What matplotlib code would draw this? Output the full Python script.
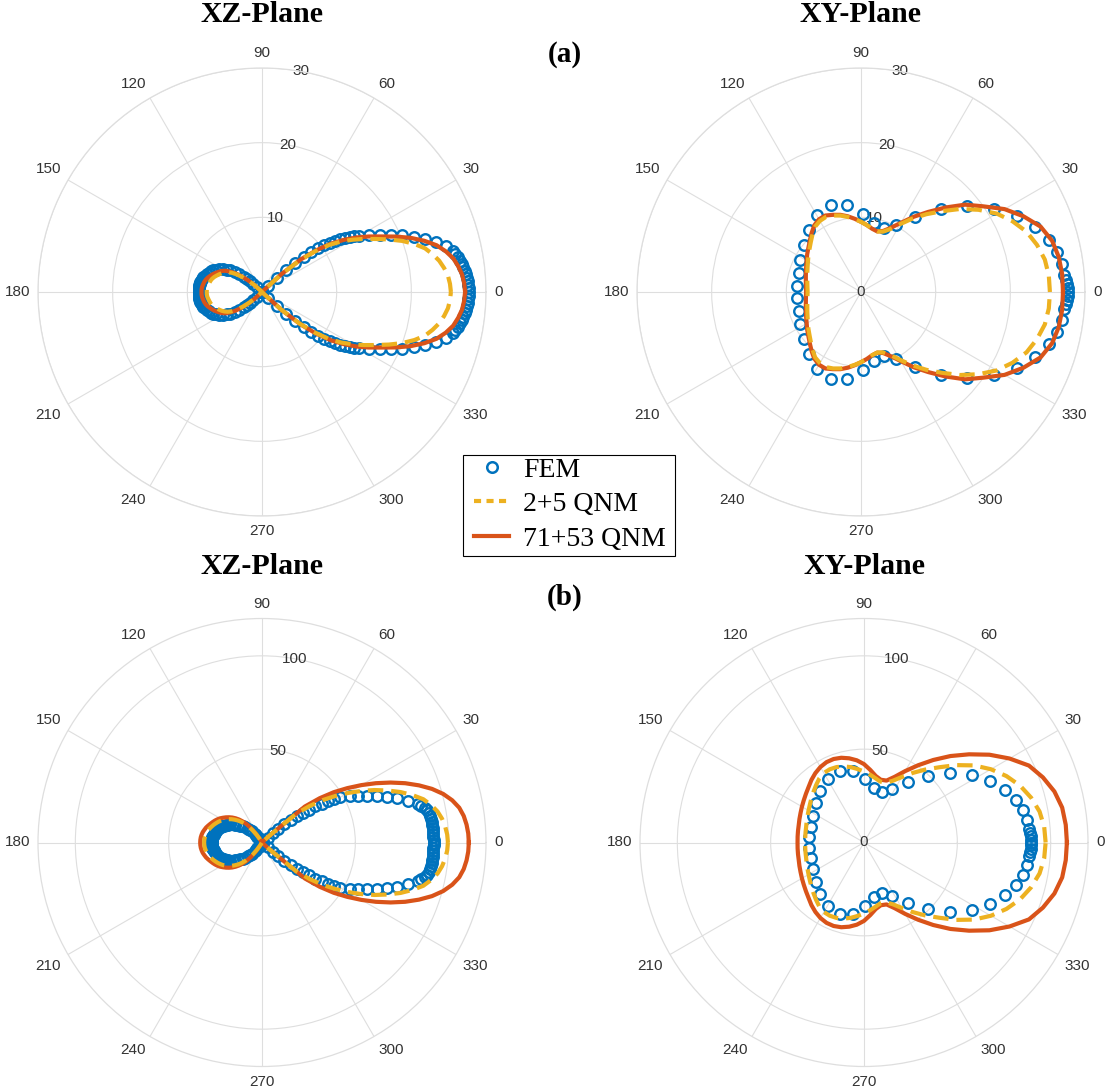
import numpy as np
import matplotlib
matplotlib.use("Agg")
import matplotlib.pyplot as plt
from matplotlib.lines import Line2D
from matplotlib.patches import Rectangle

plt.rcParams["font.family"] = ["Liberation Sans", "DejaVu Sans"]

# ---------------- data (angles in degrees, radii in plot units) ----------------
theta_ticks = list(range(0, 360, 30))
theta_tick_labels = [str(t) for t in theta_ticks]

# ---- (a) XZ-plane ----
a_xz_theta_line = np.r_[np.arange(0, 45.1, 2.5), [50, 90, 130], np.arange(135, 225.1, 2.5),
                        [230, 270, 310], np.arange(315, 360.1, 2.5)]
a_xz_qnm71 = [27.2, 27.1, 26.9, 26.5, 26.0, 25.2, 24.2, 22.8, 21.2, 19.4, 17.6, 16.1, 14.6, 13.0,
              11.3, 9.2, 6.8, 3.6, 0.3,
              0, 0, 0,
              0.3, 1.4, 2.4, 3.5, 4.4, 5.1, 5.7, 6.1, 6.4, 6.7, 7.0, 7.25, 7.5, 7.7, 7.85, 7.95,
              8.05, 8.1, 8.1,
              8.1, 8.05, 7.95, 7.85, 7.7, 7.5, 7.25, 7.0, 6.7, 6.4, 6.1, 5.7, 5.1, 4.4, 3.5, 2.4,
              1.4, 0.3,
              0, 0, 0,
              0.3, 3.6, 6.8, 9.2, 11.3, 13.0, 14.6, 16.1, 17.6, 19.4, 21.2, 22.8, 24.2, 25.2,
              26.0, 26.5, 26.9, 27.1, 27.2]
a_xz_qnm25 = [25.3, 25.2, 25.0, 24.6, 24.1, 23.4, 22.6, 21.4, 20.0, 18.4, 16.8, 15.4, 14.0, 12.6,
              11.0, 8.9, 6.6, 3.5, 0.3,
              0, 0, 0,
              0.3, 1.3, 2.2, 3.2, 4.1, 4.8, 5.3, 5.65, 5.95, 6.2, 6.45, 6.7, 6.9, 7.05, 7.15, 7.25,
              7.35, 7.4, 7.4,
              7.4, 7.35, 7.25, 7.15, 7.05, 6.9, 6.7, 6.45, 6.2, 5.95, 5.65, 5.3, 4.8, 4.1, 3.2,
              2.2, 1.3, 0.3,
              0, 0, 0,
              0.3, 3.5, 6.6, 8.9, 11.0, 12.6, 14.0, 15.4, 16.8, 18.4, 20.0, 21.4, 22.6, 23.4,
              24.1, 24.6, 25.0, 25.2, 25.3]
a_xz_fem_theta = [0, 1, 2, 3, 4, 5, 6, 7, 8, 9, 10, 11, 12, 14, 16, 18, 20, 22, 24, 26, 28,
                  30, 31, 32, 33, 34, 35, 36, 37, 38, 39, 40, 41, 42, 43, 44,
                  50, 70, 90, 110, 130,
                  136, 137, 138, 139, 140, 142, 144, 146, 148, 150, 152, 154, 156, 158, 160,
                  162, 164, 166, 168, 170, 171, 172, 173, 174, 175, 176, 177, 178, 179, 180,
                  181, 182, 183, 184, 185, 186, 187, 188, 189, 190, 192, 194, 196, 198, 200,
                  202, 204, 206, 208, 210, 212, 214, 216, 218, 220, 221, 222, 223, 224,
                  230, 250, 270, 290, 310,
                  316, 317, 318, 319, 320, 321, 322, 323, 324, 325, 326, 327, 328, 329, 330,
                  332, 334, 336, 338, 340, 342, 344, 346, 348, 349, 350, 351, 352, 353, 354,
                  355, 356, 357, 358, 359]
a_xz_fem_r = [27.7, 27.7, 27.65, 27.6, 27.5, 27.4, 27.3, 27.15, 27.0, 26.85, 26.7, 26.4, 26.15,
              25.4, 24.3, 23.0, 21.6, 20.25, 18.9, 17.55, 16.3,
              15.0, 14.45, 13.9, 13.3, 12.65, 12.0, 11.25, 10.4, 9.5, 8.5, 7.3, 5.9, 4.4, 2.8, 1.2,
              0, 0, 0, 0, 0,
              1.0, 1.6, 2.2, 2.7, 3.2, 3.85, 4.55, 5.15, 5.6, 6.1, 6.5, 6.85, 7.15, 7.4, 7.6,
              7.8, 7.95, 8.1, 8.2, 8.3, 8.35, 8.4, 8.4, 8.45, 8.45, 8.45, 8.45, 8.45, 8.45, 8.45,
              8.45, 8.45, 8.45, 8.45, 8.45, 8.45, 8.4, 8.4, 8.35, 8.3, 8.2, 8.1, 7.95, 7.8, 7.6,
              7.4, 7.15, 6.85, 6.5, 6.1, 5.6, 5.15, 4.55, 3.85, 3.2, 2.7, 2.2, 1.6, 1.0,
              0, 0, 0, 0, 0,
              1.2, 2.8, 4.4, 5.9, 7.3, 8.5, 9.5, 10.4, 11.25, 12.0, 12.65, 13.3, 13.9, 14.45, 15.0,
              16.3, 17.55, 18.9, 20.25, 21.6, 23.0, 24.3, 25.4, 26.15, 26.4, 26.7, 26.85, 27.0,
              27.15, 27.3, 27.4, 27.5, 27.6, 27.65, 27.7]

# ---- (a) XY-plane ----
xy_theta_line = np.arange(0, 361, 5)
a_xy_qnm25 = [25.3, 25.25, 25.0, 24.4, 23.6, 22.4, 21.0, 19.2, 17.3, 15.3, 13.6, 12.0, 10.5,
              9.3, 8.6, 8.4, 8.6, 9.0, 9.4, 9.8, 10.2, 10.6, 10.9, 11.1, 11.0, 10.7, 10.1,
              9.5, 9.0, 8.6, 8.2, 7.9, 7.65, 7.45, 7.3, 7.2, 7.15,
              7.2, 7.3, 7.45, 7.65, 7.9, 8.2, 8.6, 9.0, 9.5, 10.1, 10.7, 11.0, 11.1, 10.9,
              10.6, 10.2, 9.8, 9.4, 9.0, 8.6, 8.4, 8.6, 9.3, 10.5, 12.0, 13.6, 15.3, 17.3,
              19.2, 21.0, 22.4, 23.6, 24.4, 25.0, 25.25, 25.3]
a_xy_qnm71 = [27.05, 27.05, 26.9, 26.5, 25.6, 24.0, 22.2, 20.0, 18.2, 16.0, 14.0, 12.3, 10.7,
              9.5, 8.7, 8.4, 8.6, 9.0, 9.4, 9.85, 10.3, 10.7, 11.0, 11.3, 11.25, 10.9, 10.3,
              9.7, 9.2, 8.8, 8.4, 8.1, 7.85, 7.65, 7.5, 7.4, 7.35,
              7.4, 7.5, 7.65, 7.85, 8.1, 8.4, 8.8, 9.2, 9.7, 10.3, 10.9, 11.25, 11.3, 11.0,
              10.7, 10.3, 9.85, 9.4, 9.0, 8.6, 8.4, 8.7, 9.5, 10.7, 12.3, 14.0, 16.0, 18.2,
              20.0, 22.2, 24.0, 25.6, 26.5, 26.9, 27.05, 27.05]
xy_fem_theta = [0, 1.0, 2.2, 3.4, 4.8, 7.8, 11.5, 15.6, 20.5, 26.0, 32.1, 39.0, 46.1, 54.0,
                62.4, 70.2, 79.4, 88.8, 99.0, 109.0, 119.5, 130.1, 140.6, 152.2, 163.3, 174.6,
                185.4, 196.7, 207.8, 219.4, 229.9, 240.5, 251.0, 261.0, 271.2, 280.6, 289.8,
                297.6, 306.0, 313.9, 321.0, 327.9, 334.0, 339.5, 344.4, 348.5, 352.2, 355.2,
                356.6, 357.8, 359.0]
a_xy_fem_r = [27.7, 27.7, 27.6, 27.5, 27.3, 27.2, 26.8, 26.1, 24.9, 23.3, 21.0, 18.3, 15.4, 12.4,
              10.1, 9.05, 9.35, 10.5, 11.8, 12.3, 11.9, 10.9, 9.9, 9.2, 8.7, 8.6,
              8.6, 8.7, 9.2, 9.9, 10.9, 11.9, 12.3, 11.8, 10.5, 9.35, 9.05,
              10.1, 12.4, 15.4, 18.3, 21.0, 23.3, 24.9, 26.1, 26.8, 27.2, 27.3,
              27.5, 27.6, 27.7]

# ---- (b) XZ-plane ----
b_xz_theta_line = np.r_[np.arange(0, 45.1, 2.5), [50, 85, 115], np.arange(120, 240.1, 2.5),
                        [245, 275, 310], np.arange(315, 360.1, 2.5)]
b_xz_qnm71 = [110.8, 110.6, 110.0, 109.0, 107.3, 104.4, 100.5, 95.5, 89.5, 83.0, 76.0, 68.8,
              61.5, 54.2, 47.0, 39.0, 30.0, 5.0, 0.3,
              0, 0, 0,
              0, 2.5, 6.5, 10.0, 12.8, 15.3, 17.4, 19.2, 20.8, 22.2, 23.5, 24.7, 25.9, 26.9, 27.8,
              28.6, 29.4, 30.2, 31.0, 31.6, 32.2, 32.6, 32.9, 33.05, 33.1,
              33.05, 32.9, 32.6, 32.2, 31.6, 31.0, 30.2, 29.4, 28.6, 27.8, 26.9, 25.9, 24.7, 23.5,
              22.2, 20.8, 19.2, 17.4, 15.3, 12.8, 10.0, 6.5, 2.5, 0,
              0, 0, 0,
              0.3, 5.0, 30.0, 39.0, 47.0, 54.2, 61.5, 68.8, 76.0, 83.0, 89.5, 95.5, 100.5, 104.4,
              107.3, 109.0, 110.0, 110.6, 110.8]
b_xz_qnm25 = [99.6, 99.3, 98.5, 97.3, 95.5, 92.8, 89.5, 84.5, 79.0, 72.8, 66.5, 59.8, 53.0,
              46.2, 39.5, 32.0, 24.0, 6.0, 0.3,
              0, 0, 0,
              0, 2.0, 5.0, 8.2, 11.0, 13.5, 15.6, 17.4, 19.0, 20.5, 21.8, 23.0, 24.2, 25.1, 26.0,
              26.8, 27.6, 28.3, 29.0, 29.6, 30.1, 30.5, 30.8, 30.95, 31.0,
              30.95, 30.8, 30.5, 30.1, 29.6, 29.0, 28.3, 27.6, 26.8, 26.0, 25.1, 24.2, 23.0, 21.8,
              20.5, 19.0, 17.4, 15.6, 13.5, 11.0, 8.2, 5.0, 2.0, 0,
              0, 0, 0,
              0.3, 6.0, 24.0, 32.0, 39.5, 46.2, 53.0, 59.8, 66.5, 72.8, 79.0, 84.5, 89.5, 92.8,
              95.5, 97.3, 98.5, 99.3, 99.6]
b_xz_fem_theta = [0, 1, 2, 3, 4, 5, 6, 7, 8, 9, 10, 11, 12, 13, 14, 16, 18, 20, 22, 24, 26, 28,
                  30, 31, 32, 33, 34, 35, 36, 37, 38, 39, 40, 41, 42, 43,
                  50, 70, 90, 110,
                  124, 125, 126, 127, 128, 129, 130, 132, 134, 136, 138, 140, 142, 144, 146,
                  148, 150, 152, 154, 156, 158, 160, 162, 164, 166, 168, 170, 171, 172, 173,
                  174, 175, 176, 177, 178, 179, 180,
                  181, 182, 183, 184, 185, 186, 187, 188, 189, 190, 192, 194, 196, 198, 200,
                  202, 204, 206, 208, 210, 212, 214, 216, 218, 220, 222, 224, 226, 228,
                  230, 231, 232, 233, 234, 235, 236,
                  250, 270, 290, 310,
                  317, 318, 319, 320, 321, 322, 323, 324, 325, 326, 327, 328, 329, 330,
                  332, 334, 336, 338, 340, 342, 344,
                  346, 347, 348, 349, 350, 351, 352, 353, 354, 355, 356, 357, 358, 359]
b_xz_fem_r = [92.0, 92.0, 91.9, 91.9, 91.8, 91.7, 91.6, 91.5, 91.3, 91.1, 90.8, 90.0, 89.0,
              87.6, 85.9, 81.5, 76.3, 71.0, 66.2, 61.6, 57.4, 53.4,
              48.5, 45.2, 41.7, 38.1, 34.5, 30.8, 27.0, 23.3, 19.5, 15.5, 11.5, 7.5, 4.0, 1.0,
              0, 0, 0, 0,
              0, 1.0, 2.0, 3.0, 4.0, 5.0, 6.0, 8.0, 9.3, 10.7, 12.1, 13.5, 14.7, 15.9, 17.2,
              18.4, 19.5, 20.5, 21.4, 22.2, 22.9, 23.6, 24.3, 24.8, 25.3, 25.7, 26.1, 26.3, 26.5,
              26.6, 26.7, 26.8, 26.9, 27.0, 27.0, 27.0, 27.0,
              27.0, 27.0, 27.0, 26.9, 26.8, 26.7, 26.6, 26.5, 26.3, 26.1, 25.7, 25.3, 24.8, 24.3,
              23.6, 22.9, 22.2, 21.4, 20.5, 19.5, 18.4, 17.2, 15.9, 14.7, 13.5, 12.1, 10.7, 9.3,
              8.0,
              6.0, 5.0, 4.0, 3.0, 2.0, 1.0, 0,
              0, 0, 0, 0,
              1.0, 4.0, 7.5, 11.5, 15.5, 19.5, 23.3, 27.0, 30.8, 34.5, 38.1, 41.7, 45.2, 48.5,
              53.4, 57.4, 61.6, 66.2, 71.0, 76.3, 81.5,
              85.9, 87.6, 89.0, 90.0, 90.8, 91.1, 91.3, 91.5, 91.6, 91.7, 91.8, 91.9, 91.9, 92.0]

# ---- (b) XY-plane ----
b_xy_qnm25 = [97.3, 96.9, 95.5, 92.7, 89.0, 84.2, 78.5, 72.0, 64.5, 57.0, 51.0, 45.5, 40.5,
              36.5, 34.0, 33.8, 35.0, 36.5, 38.0, 39.5, 41.0, 42.2, 43.0, 43.3, 43.0, 41.8, 40.0,
              38.3, 36.8, 35.4, 34.3, 33.4, 32.7, 32.1, 31.8, 31.6, 31.5,
              31.6, 31.8, 32.1, 32.7, 33.4, 34.3, 35.4, 36.8, 38.3, 40.0, 41.8, 43.0, 43.3, 43.0,
              42.2, 41.0, 39.5, 38.0, 36.5, 35.0, 33.8, 34.0, 36.5, 40.5, 45.5, 51.0, 57.0, 64.5,
              72.0, 78.5, 84.2, 89.0, 92.7, 95.5, 96.9, 97.3]
b_xy_qnm71 = [108.7, 108.5, 107.8, 105.6, 102.0, 97.5, 90.0, 82.0, 73.5, 65.5, 57.7, 50.5, 44.2,
              38.8, 35.3, 34.8, 36.2, 39.0, 42.0, 44.2, 45.8, 47.0, 47.6, 47.5, 46.7, 45.4, 43.8,
              42.0, 40.6, 39.4, 38.4, 37.5, 36.8, 36.2, 35.9, 35.7, 35.6,
              35.7, 35.9, 36.2, 36.8, 37.5, 38.4, 39.4, 40.6, 42.0, 43.8, 45.4, 46.7, 47.5, 47.6,
              47.0, 45.8, 44.2, 42.0, 39.0, 36.2, 34.8, 35.3, 38.8, 44.2, 50.5, 57.7, 65.5, 73.5,
              82.0, 90.0, 97.5, 102.0, 105.6, 107.8, 108.5, 108.7]
b_xy_fem_r = [89.6, 89.6, 89.5, 89.3, 88.7, 88.3, 86.8, 84.4, 80.8, 75.2, 68.4, 59.4, 49.8, 39.9,
              32.2, 29.0, 29.8, 33.8, 38.6, 40.3, 39.2, 36.3, 33.2, 31.0, 29.8, 29.4,
              29.4, 29.8, 31.0, 33.2, 36.3, 39.2, 40.3, 38.6, 33.8, 29.8, 29.0,
              32.2, 39.9, 49.8, 59.4, 68.4, 75.2, 80.8, 84.4, 86.8, 88.3, 88.7,
              89.3, 89.5, 89.6]

# radial ticks
a_rticks = [0, 10, 20, 30]
b_rticks = [0, 50, 100]
a_rmax = 30
b_rmax = 120

titles = ["XZ-Plane", "XY-Plane", "XZ-Plane", "XY-Plane"]
panel_tags = ["(a)", "(b)"]
legend_labels = ["FEM", "2+5 QNM", "71+53 QNM"]

# ---------------- styling ----------------
W, H = 1105, 1089
BLUE, ORANGE, YELLOW = "#0072BD", "#D95319", "#EDB120"
GRID = "#DEDEDE"
TXT = "#333333"
SERIF = ["Liberation Serif", "DejaVu Serif"]
RAD = 224.0
LABEL_R = 232.0

fig = plt.figure(figsize=(W / 100, H / 100), dpi=100)


def rect(cx, cy, rad=RAD):
    return [(cx - rad) / W, (H - cy - rad) / H, 2 * rad / W, 2 * rad / H]


def make_axes(cx, cy, rmax, rticks, th_line, q25, q71, fem_t, fem_r):
    ax = fig.add_axes(rect(cx, cy), projection="polar")
    ax.set_rlim(0, rmax)
    ax.set_thetagrids(theta_ticks, labels=[""] * len(theta_ticks))
    ax.set_rgrids([t for t in rticks if t > 0], labels=[""] * (len(rticks) - 1))
    ax.grid(True, color=GRID, lw=0.8)
    ax.spines["polar"].set_color(GRID)
    ax.spines["polar"].set_linewidth(0.9)
    ax.tick_params(length=0, pad=0)
    # theta labels anchored just outside the outer ring, aligned away from it
    for t, lab in zip(theta_ticks, theta_tick_labels):
        a = np.deg2rad(t)
        c, s = np.cos(a), np.sin(a)
        ha = "left" if c > 0.01 else ("right" if c < -0.01 else "center")
        va = "bottom" if s > 0.01 else ("top" if s < -0.01 else "center")
        ax.text(a, rmax * LABEL_R / RAD, lab, ha=ha, va=va, fontsize=11,
                color=TXT, clip_on=False)
    # radial labels along 80 degrees
    for r in rticks:
        ax.text(np.deg2rad(80) if r > 0 else 0, r, str(r), ha="center", va="center",
                fontsize=11, color=TXT, zorder=2)
    ax.plot(np.deg2rad(fem_t), fem_r, ls="none", marker="o", ms=7.6, mfc="none",
            mec=BLUE, mew=1.7, zorder=3, clip_on=False)
    ax.plot(np.deg2rad(th_line), q71, color=ORANGE, lw=3.0, zorder=4,
            solid_joinstyle="round")
    ax.plot(np.deg2rad(th_line), q25, color=YELLOW, lw=3.0, zorder=5,
            dashes=(3.7, 1.9))
    return ax


make_axes(262, 292, a_rmax, a_rticks, a_xz_theta_line, a_xz_qnm25, a_xz_qnm71,
          a_xz_fem_theta, a_xz_fem_r)
make_axes(861, 292, a_rmax, a_rticks, xy_theta_line, a_xy_qnm25, a_xy_qnm71,
          xy_fem_theta, a_xy_fem_r)
make_axes(262, 842.5, b_rmax, b_rticks, b_xz_theta_line, b_xz_qnm25, b_xz_qnm71,
          b_xz_fem_theta, b_xz_fem_r)
make_axes(864, 842.5, b_rmax, b_rticks, xy_theta_line, b_xy_qnm25, b_xy_qnm71,
          xy_fem_theta, b_xy_fem_r)

# titles and panel tags
for (x, y), t in zip([(262, 15), (861, 15), (262, 567), (864, 567)], titles):
    fig.text(x / W, 1 - y / H, t, ha="center", va="center", fontsize=21.5,
             fontweight="bold", family=SERIF)
for (x, y), t in zip([(565, 55), (565, 597)], panel_tags):
    fig.text(x / W, 1 - y / H, t, ha="center", va="center", fontsize=21,
             fontweight="bold", family=SERIF)

# legend box (drawn separately so its padding can match the reference)
fig.add_artist(Rectangle((463 / W, 1 - 556 / H), 212 / W, 101 / H, transform=fig.transFigure,
                         facecolor="white", edgecolor="black", lw=0.8, zorder=9))
handles = [
    Line2D([], [], ls="none", marker="o", ms=7.6, mfc="none", mec=BLUE, mew=1.8),
    Line2D([], [], color=YELLOW, lw=3.0, dashes=(1.7, 1.3)),
    Line2D([], [], color=ORANGE, lw=3.0),
]
leg = fig.legend(handles, legend_labels, loc="center",
                 bbox_to_anchor=(570 / W, 1 - 504.5 / H), frameon=False,
                 prop={"family": SERIF, "size": 20},
                 handlelength=1.25, handletextpad=0.5, borderpad=0.12, labelspacing=0.32,
                 borderaxespad=0, numpoints=1)
leg.set_zorder(10)

fig.savefig("out.png", dpi=100)
